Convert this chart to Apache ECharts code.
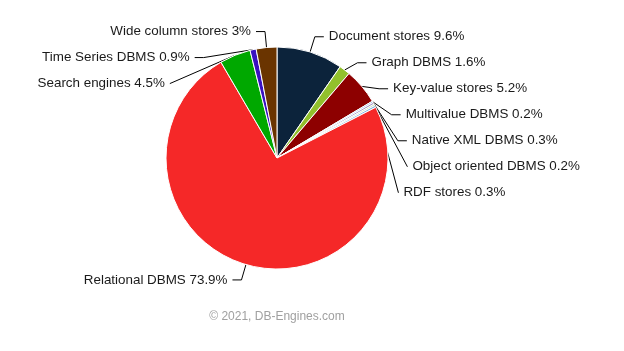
<!DOCTYPE html>
<html><head><meta charset="utf-8">
<script src="https://cdn.jsdelivr.net/npm/echarts@6/dist/echarts.min.js"></script>
<style>html,body{margin:0;padding:0;background:#fff}#c{width:624px;height:351px}</style>
</head><body><div id="c"></div>
<script>
const categories = ["Document stores","Graph DBMS","Key-value stores","Multivalue DBMS","Native XML DBMS","Object oriented DBMS","RDF stores","Relational DBMS","Search engines","Time Series DBMS","Wide column stores"];
const values = [9.6,1.6,5.2,0.2,0.3,0.2,0.3,73.9,4.5,0.9,3];
const colors = ["#0c233b","#92c02c","#8d0000","#6fa5dc","#a99ccc","#a6d684","#86b8e6","#f52828","#00a800","#3a10c0","#6a3400"];
const chart = echarts.init(document.getElementById('c'));
chart.setOption({
  animation:false,
  graphic:[{type:'text',x:277,y:311,style:{text:'© 2021, DB-Engines.com',textAlign:'center',fill:'#a0a0a0',font:'12px "Liberation Sans", Arial, sans-serif'}}],
  series:[{
    type:'pie',
    center:[277,158],
    radius:111,
    startAngle:90,
    clockwise:true,
    avoidLabelOverlap:true,
    data:categories.map((c,i)=>({name:c,value:values[i],itemStyle:{color:colors[i]}})),
    itemStyle:{borderColor:'#fff',borderWidth:1},
    label:{formatter:p=>p.name+' '+p.value+'%',color:'#1a1a1a',fontSize:13.4,lineHeight:24,fontFamily:'"Liberation Sans", Arial, sans-serif'},
    labelLine:{length:16,length2:9,lineStyle:{color:'#000',width:1}}
  }]
});
</script></body></html>
